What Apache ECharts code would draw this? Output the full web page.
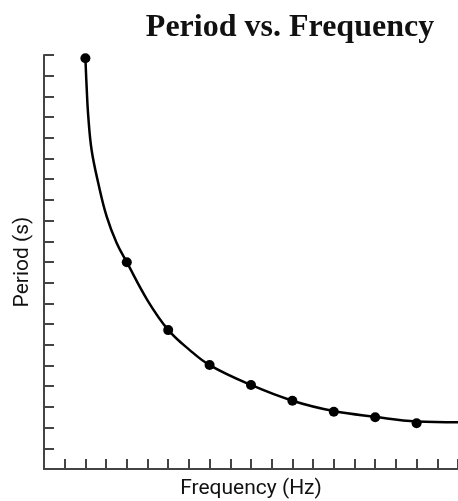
<!DOCTYPE html>
<html><head><meta charset="utf-8">
<script src="https://cdn.jsdelivr.net/npm/echarts@6/dist/echarts.min.js"></script>
<style>html,body{margin:0;padding:0;background:#fff}#c{width:458px;height:501px}</style>
</head><body><div id="c"></div>
<script>
// Measured points (frequency in tick units, period in tick units)
const frequency = [2, 4, 6, 8, 10, 12, 14, 16, 18];
const period = [19.84, 9.99, 6.71, 5.02, 4.06, 3.30, 2.77, 2.50, 2.21];
// Hand-drawn fitted curve, samples
const curveFreq = [2, 2.06, 2.14, 2.30, 2.62, 3.03, 3.51, 4, 5, 6, 7, 8, 10, 12, 14, 16, 18, 20];
const curvePeriod = [19.84, 18.45, 17.02, 15.41, 13.82, 12.19, 10.92, 9.99, 8.15, 6.72, 5.78, 5.02, 4.06, 3.30, 2.80, 2.52, 2.30, 2.26];
const titleText = 'Period vs. Frequency';
const xName = 'Frequency (Hz)';
const yName = 'Period (s)';

const chart = echarts.init(document.getElementById('c'), null, {renderer: 'canvas'});
const axisCommon = {
  type: 'value', min: 0, max: 20, interval: 1,
  axisLine: {show: true, lineStyle: {color: '#444', width: 2}},
  axisTick: {show: true, inside: true, length: 10, lineStyle: {color: '#444', width: 2}},
  axisLabel: {show: false},
  splitLine: {show: false},
  nameTextStyle: {fontFamily: 'Roboto', fontSize: 21, color: '#111'}
};
chart.setOption({
  animation: false,
  backgroundColor: '#fff',
  title: {
    text: titleText, left: 285, top: 7, textAlign: 'center',
    textStyle: {fontFamily: 'Liberation Serif', fontWeight: 'bold', fontSize: 32, color: '#111'}
  },
  grid: {left: 44, right: 0, top: 55, bottom: 32, containLabel: false, outerBoundsMode: 'none'},
  xAxis: Object.assign({}, axisCommon, {name: xName, nameLocation: 'middle', nameGap: 9}),
  yAxis: Object.assign({}, axisCommon, {name: yName, nameLocation: 'middle', nameGap: 11, nameRotate: 90}),
  series: [
    {
      type: 'line', smooth: 0.4, showSymbol: false, z: 2,
      data: curveFreq.map((f, i) => [f, curvePeriod[i]]),
      lineStyle: {color: '#000', width: 2.5}
    },
    {
      type: 'scatter', symbolSize: 10, z: 3,
      data: frequency.map((f, i) => [f, period[i]]),
      itemStyle: {color: '#000', opacity: 1}
    }
  ]
});
</script></body></html>
